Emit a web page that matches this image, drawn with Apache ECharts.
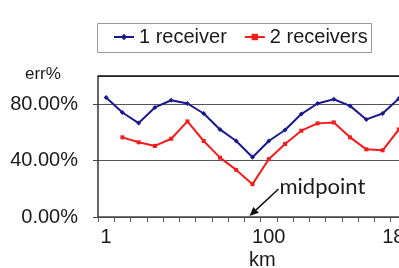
<!DOCTYPE html>
<html>
<head>
<meta charset="utf-8">
<script src="https://cdn.jsdelivr.net/npm/echarts@6/dist/echarts.min.js"></script>
<style>html,body{margin:0;padding:0;background:#fff;}#c{width:399px;height:268px;}</style>
</head>
<body>
<div id="c"></div>
<script>
var categories = ['1','10','20','30','40','50','60','70','80','90','100','110','120','130','140','150','160','170','180'];
var oneReceiver = [84.7,74.1,66.6,77.7,82.8,80.5,73.4,62.1,53.9,42.4,53.9,61.7,73.0,80.5,83.5,78.8,69.2,73.4,84.0];
var twoReceivers = [null,56.5,53.0,50.4,55.5,67.8,53.9,42.1,33.4,23.3,41.0,51.8,61.2,66.4,67.1,56.5,48.0,47.3,62.1];
var shownLabels = ['1','100','180'];
var yTicks = [0,40,80];
var midIndex = 9;

var chart = echarts.init(document.getElementById('c'), null, {renderer:'canvas'});
var font = 'Liberation Sans, Arial, sans-serif';
chart.setOption({
  animation:false,
  backgroundColor:'#fff',
  textStyle:{fontFamily:font},
  grid:{left:98, top:76, right:-8, bottom:51, show:false, containLabel:false, outerBoundsMode:'none'},
  legend:{
    left:113, top:27, padding:0, itemGap:17, itemWidth:20, itemHeight:8,
    textStyle:{fontSize:20, color:'#1a1a1a', fontFamily:font},
    data:['1 receiver','2 receivers']
  },
  xAxis:{
    type:'category', data:categories, boundaryGap:true,
    axisLine:{lineStyle:{color:'#444', width:1.5}},
    axisTick:{show:true, interval:0, length:5, lineStyle:{color:'#555'}},
    axisLabel:{
      interval:function(i,v){return shownLabels.indexOf(v)>=0;},
      fontSize:20, color:'#1a1a1a', margin:10, fontFamily:font, hideOverlap:false
    },
    splitLine:{show:false}
  },
  yAxis:{
    type:'value', min:0, max:100, interval:40,
    axisLine:{show:true, lineStyle:{color:'#333', width:1.5}},
    axisTick:{show:true, length:5, lineStyle:{color:'#444'}},
    axisLabel:{
      showMaxLabel:false, fontSize:20, color:'#1a1a1a', margin:20, fontFamily:font,
      formatter:function(v){return yTicks.indexOf(v)>=0 ? v.toFixed(2)+'%' : '';}
    },
    splitLine:{show:true, lineStyle:{color:'#555', width:1}}
  },
  series:[
    {name:'1 receiver', type:'line', data:oneReceiver, color:'#1a1a8c',
     symbol:'diamond', symbolSize:5, lineStyle:{width:2}},
    {name:'2 receivers', type:'line', data:twoReceivers, color:'#f21d1d',
     symbol:'rect', symbolSize:4, lineStyle:{width:2}}
  ]
});

var tip = chart.convertToPixel({xAxisIndex:0, yAxisIndex:0}, [midIndex, 0]);
var tx = tip[0]-3, ty = tip[1]-1;
var sx = tx+29, sy = ty-27;
var ang = Math.atan2(ty-sy, tx-sx);
var ah = 9, aw = 4;
var bx = tx - ah*Math.cos(ang), by = ty - ah*Math.sin(ang);
var px = -Math.sin(ang), py = Math.cos(ang);
chart.setOption({
  graphic:[
    {type:'rect', shape:{x:97.5, y:23.5, width:274, height:29}, style:{fill:'none', stroke:'#999', lineWidth:1}, z:0},
    {type:'line', shape:{x1:98, y1:76, x2:399, y2:76}, style:{stroke:'#111', lineWidth:1.5}, z:10},
    {type:'text', left:25, top:66, style:{text:'err%', fontSize:17, fill:'#1a1a1a', fontFamily:font}},
    {type:'text', left:249, top:250, style:{text:'km', fontSize:20, fill:'#1a1a1a', fontFamily:font}},
    {type:'text', x:sx+1, y:sy-2, style:{text:'midpoint', fontSize:22, fill:'#1a1a1a', fontFamily:'Lato, Open Sans, sans-serif', textVerticalAlign:'middle'}},
    {type:'line', shape:{x1:sx, y1:sy, x2:bx, y2:by}, style:{stroke:'#111', lineWidth:1.5}},
    {type:'polygon', shape:{points:[[tx,ty],[bx+px*aw,by+py*aw],[bx-px*aw,by-py*aw]]}, style:{fill:'#111'}}
  ]
});
</script>
</body>
</html>
